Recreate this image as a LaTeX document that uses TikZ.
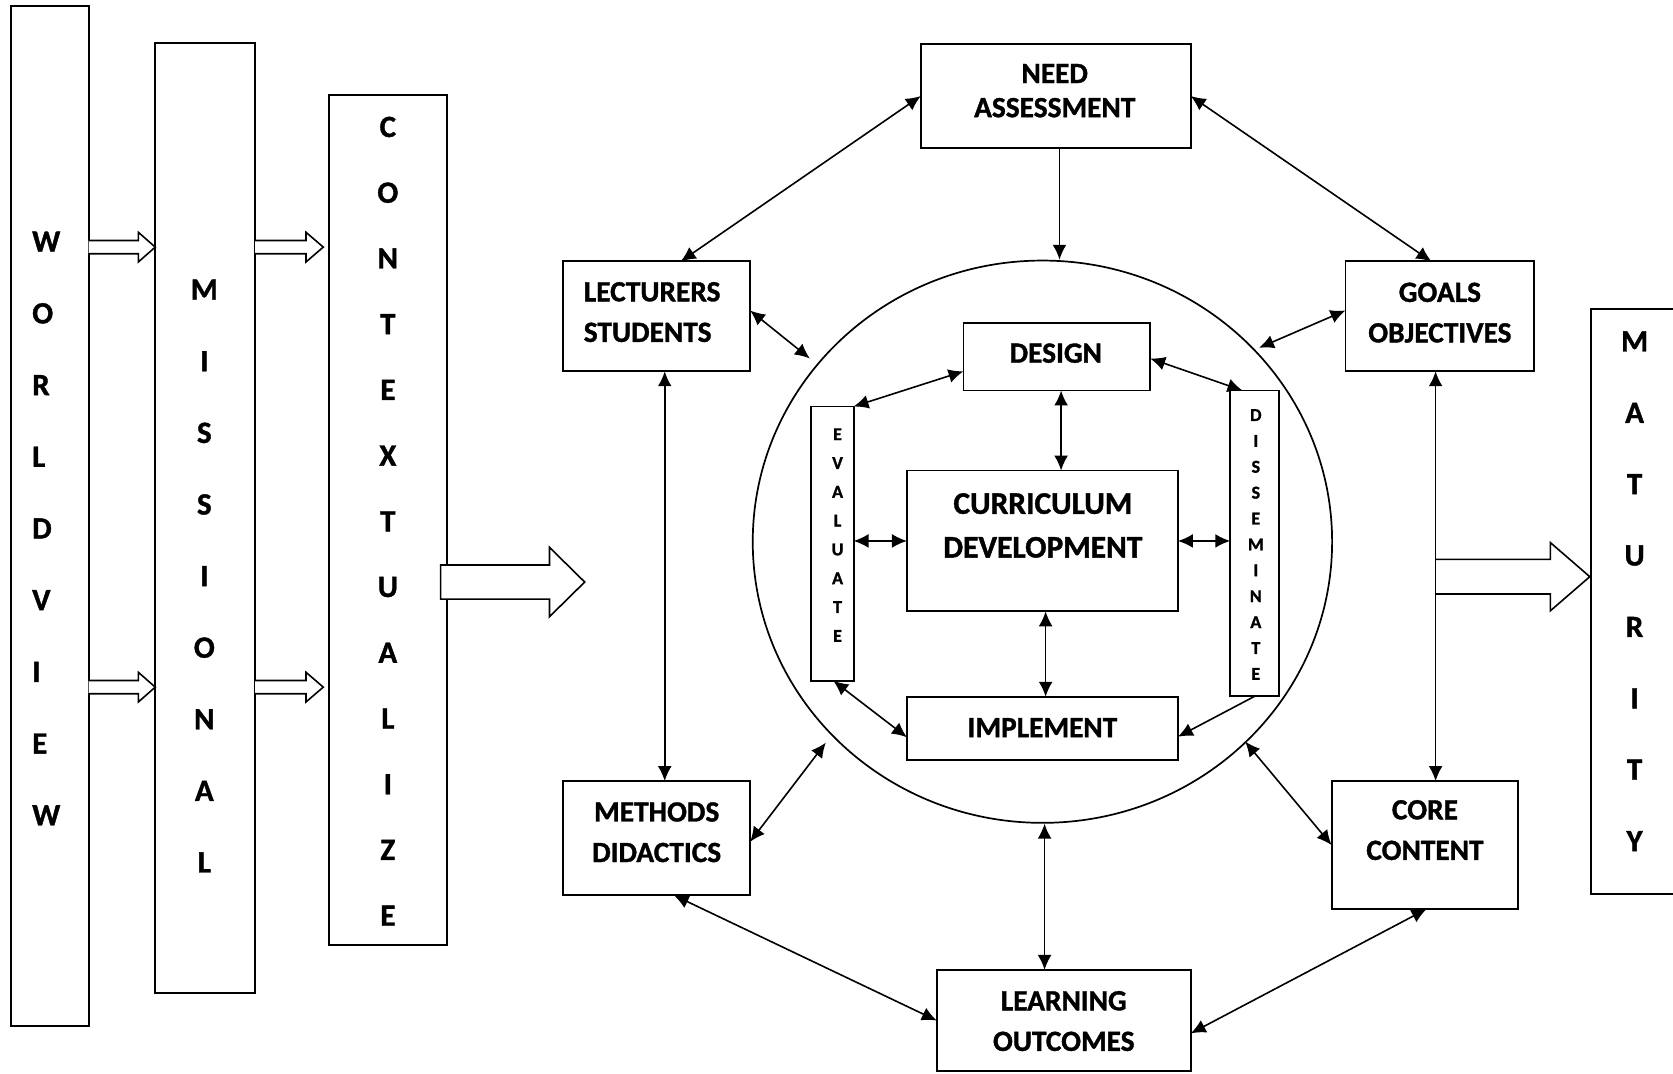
\documentclass[tikz,border=0pt]{standalone}
\usepackage{fontspec}
\setmainfont{Carlito}[BoldFeatures={FakeBold=1.2}]
\usetikzlibrary{arrows.meta,calc,shapes.geometric}
\newcommand\rbox[5]{\node[box, minimum width=#4pt, minimum height=#5pt] (#1) at (#2,#3) {};}
\begin{document}
\begin{tikzpicture}[x=1pt,y=-1pt,
  box/.style={draw, line width=1.8pt, rectangle, inner sep=0pt, outer sep=0pt, fill=white},
  lbl/.style={inner sep=0pt, align=center, font=\fontsize{27.5}{38}\selectfont\bfseries},
  colL/.style={inner sep=0pt, font=\fontsize{29}{30}\selectfont\bfseries},
  smallL/.style={inner sep=0pt, font=\fontsize{17}{18}\selectfont\bfseries},
  both/.style={line width=1.5pt, {Latex[length=14pt,width=13pt]}-{Latex[length=14pt,width=13pt]}},
  single/.style={line width=1.5pt, -{Latex[length=14pt,width=13pt]}},
  block/.style={line width=1.5pt, fill=white, line join=miter}]
\useasboundingbox (0,0) rectangle (1568,1006);
\clip (0,0) rectangle (1568,1006);

% left columns
\rbox{wv}{46.5}{484}{73}{956}
\rbox{mi}{192}{485.5}{94}{891}
\rbox{co}{363.5}{487.5}{111}{797}
\rbox{ma}{1545.5}{564}{109}{548}

% outer boxes
\rbox{need}{989.5}{90}{253}{98}
\rbox{lec}{615.5}{296.5}{175}{103}
\rbox{goals}{1349.5}{296.5}{177}{103}
\rbox{meth}{615.5}{785.5}{175}{107}
\rbox{core}{1335.5}{792}{175}{120}
\rbox{learn}{997}{956.5}{238}{95}

% ellipse
\node[draw, ellipse, line width=1.6pt, inner sep=0pt, minimum width=543pt, minimum height=527pt] (circ) at (977,507.7) {};

% inner boxes
\rbox{design}{990.5}{334.5}{175}{63}
\rbox{cd}{977}{507}{254}{132}
\rbox{impl}{977}{682.5}{254}{59}
\rbox{eval}{780}{509.5}{40}{257}
\rbox{diss}{1176}{509}{46}{286}

% block arrows
\draw[block] (83,225.4) -- (129.7,225.4) -- (129.7,217.7) -- (145.5,231.6) -- (129.7,245.5) -- (129.7,237.8) -- (83,237.8);
\draw[block] (83,637.8) -- (129.7,637.8) -- (129.7,630.1) -- (145.5,644) -- (129.7,657.9) -- (129.7,650.2) -- (83,650.2);
\draw[block] (239,225.4) -- (286.8,225.4) -- (286.8,217.7) -- (303,231.6) -- (286.8,245.5) -- (286.8,237.8) -- (239,237.8);
\draw[block] (239,637.8) -- (286.8,637.8) -- (286.8,630.1) -- (303,644) -- (286.8,657.9) -- (286.8,650.2) -- (239,650.2);
\draw[block] (413,529.5) -- (515,529.5) -- (515,513) -- (548,545.5) -- (515,578) -- (515,561.5) -- (413,561.5) -- cycle;
\draw[block] (1345,524.3) -- (1453,524.3) -- (1453,508.5) -- (1490,540.5) -- (1453,572.5) -- (1453,556.7) -- (1345,556.7);

% outer connectors
\draw[both] (need.west) -- ([xshift=22.5pt]lec.north);
\draw[both] (need.east) -- ([xshift=-8pt]goals.north);
\draw[single] ([xshift=3.5pt]need.south) -- ([xshift=16pt]circ.north);
\draw[both] ([yshift=5.5pt]lec.east) -- ($(circ.center)+(-218,-171.7)$);
\draw[both] ([yshift=5.5pt]goals.west) -- ($(circ.center)+(203,-181.7)$);
\draw[both] ([yshift=-3.5pt]meth.east) -- ($(circ.center)+(-203,188.3)$);
\draw[both] (core.west) -- ($(circ.center)+(190,187.3)$);
\draw[both] ([xshift=-18pt]learn.north) -- ([xshift=2pt]circ.south);
\draw[both] ([xshift=7.5pt]lec.south) -- ([xshift=7.5pt]meth.north);
\draw[both] ([xshift=-4pt]goals.south) -- ([xshift=10pt]core.north);
\draw[both] ([xshift=16pt]meth.south) -- (learn.west);
\draw[both] ([xshift=1.5pt]core.south) -- ([yshift=-12pt]learn.east);

% inner connectors
\draw[both] ([yshift=-13.5pt]design.west) -- (eval.north east);
\draw[both] ([yshift=-1.5pt]design.east) -- ([xshift=-11.5pt]diss.north);
\draw[both] ([xshift=4pt]design.south) -- ([xshift=17.5pt]cd.north);
\draw[both] ([xshift=3pt]cd.south) -- ([xshift=3pt]impl.north);
\draw[both] (cd.west) -- (cd.west -| eval.east);
\draw[both] (cd.east) -- (cd.east -| diss.west);
\draw[both] ([xshift=1pt]eval.south) -- ([yshift=-8.5pt]impl.west);
\draw[single] ([xshift=1pt]diss.south) -- ([yshift=-8pt]impl.east);

% column letters
\foreach \l [count=\i] in {W,O,R,L,D,V,I,E,W}
  \node[colL, anchor=west] (wvl\i) at (30,226.5+67.2*\i-67.2) {\l};
\foreach \l [count=\i] in {M,I,S,S,I,O,N,A,L}
  \node[colL] (mil\i) at (191.5,271.5+67.1*\i-67.1) {\l};
\foreach \l [count=\i] in {C,O,N,T,E,X,T,U,A,L,I,Z,E}
  \node[colL] (col\i) at (363.5,119+61.6*\i-61.6) {\l};
\foreach \l [count=\i] in {M,A,T,U,R,I,T,Y}
  \node[colL] (mal\i) at (1532,320+66.9*\i-66.9) {\l};
\foreach \l [count=\i] in {E,V,A,L,U,A,T,E}
  \node[smallL] (evl\i) at (785,407+27*\i-27) {\l};
\foreach \l [count=\i] in {D,I,S,S,E,M,I,N,A,T,E}
  \node[smallL] (dil\i) at (1177,389+24.26*\i-24.26) {\l};

% box labels
\node[lbl, font=\fontsize{27.5}{32}\selectfont\bfseries] (needt) at (988.5,85) {NEED\\ASSESSMENT};
\node[lbl, align=left, anchor=west] (lect) at (547,292.5) {LECTURERS\\STUDENTS};
\node[lbl] (goalst) at (1349.5,293) {GOALS\\OBJECTIVES};
\node[lbl] (metht) at (615.5,780) {METHODS\\DIDACTICS};
\node[lbl] (coret) at (1335.5,778) {CORE\\CONTENT};
\node[lbl] (learnt) at (997,957) {LEARNING\\OUTCOMES};
\node[lbl] (designt) at (989.5,331) {DESIGN};
\node[lbl, font=\fontsize{29.5}{41}\selectfont\bfseries] (cdt) at (977.4,492.5) {CURRICULUM\\DEVELOPMENT};
\node[lbl] (implt) at (977,682) {IMPLEMENT};
\end{tikzpicture}
\end{document}
